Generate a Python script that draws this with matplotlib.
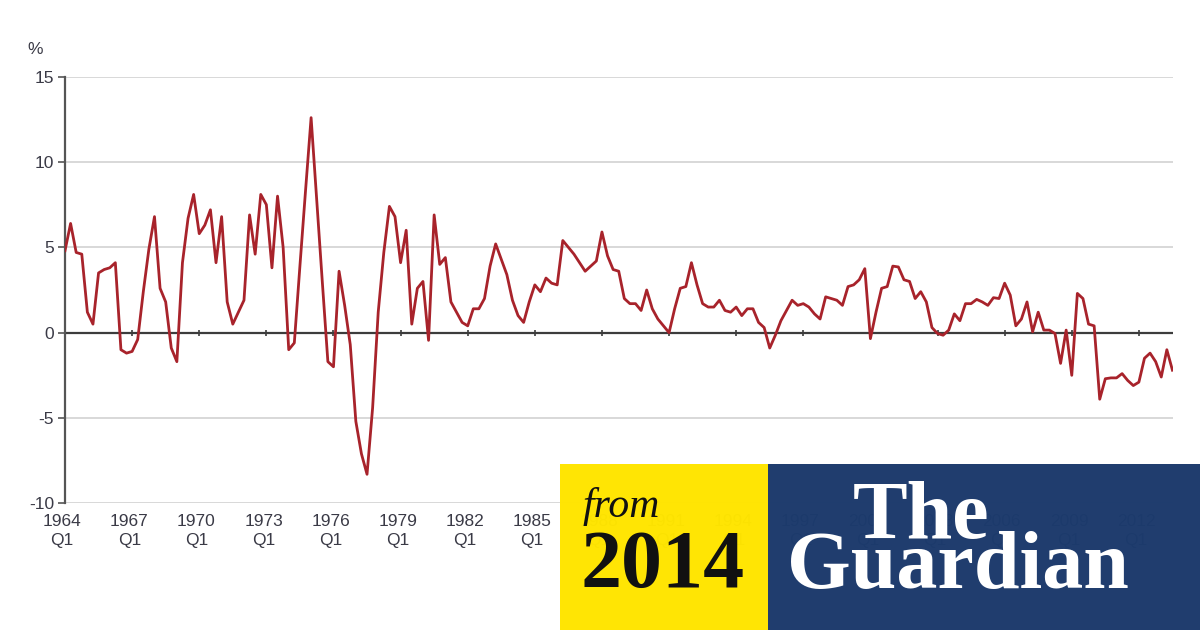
import matplotlib.pyplot as plt
from matplotlib.patches import Rectangle

# Datos trimestrales (%), 1964 Q1 a 2013 Q3
growth_1964_1973 = [4.8, 6.4, 4.7, 4.6, 1.2, 0.5, 3.5, 3.7, 3.8, 4.1,
                    -1.0, -1.2, -1.1, -0.4, 2.4, 4.9, 6.8, 2.6, 1.8, -0.9,
                    -1.7, 4.1, 6.7, 8.1, 5.8, 6.3, 7.2, 4.1, 6.8, 1.8,
                    0.5, 1.2, 1.9, 6.9, 4.6, 8.1, 7.5, 3.8, 8.0, 5.0]
growth_1974_1983 = [-1.0, -0.6, 3.9, 8.3, 12.6, 7.8, 3.0, -1.7, -2.0, 3.6,
                    1.6, -0.7, -5.2, -7.1, -8.3, -4.4, 1.2, 4.7, 7.4, 6.8,
                    4.1, 6.0, 0.5, 2.6, 3.0, -0.45, 6.9, 4.0, 4.4, 1.8,
                    1.2, 0.6, 0.4, 1.4, 1.4, 2.0, 3.9, 5.2, 4.3, 3.4]
growth_1984_1993 = [1.9, 1.0, 0.6, 1.8, 2.8, 2.4, 3.2, 2.9, 2.8, 5.4,
                    5.0, 4.6, 4.1, 3.6, 3.9, 4.2, 5.9, 4.5, 3.7, 3.6,
                    2.0, 1.7, 1.7, 1.3, 2.5, 1.4, 0.8, 0.4, 0.0, 1.4,
                    2.6, 2.7, 4.1, 2.8, 1.7, 1.5, 1.5, 1.9, 1.3, 1.2]
growth_1994_2003 = [1.5, 1.0, 1.4, 1.4, 0.6, 0.3, -0.9, -0.15, 0.7, 1.3,
                    1.9, 1.6, 1.7, 1.5, 1.1, 0.8, 2.1, 2.0, 1.9, 1.6,
                    2.7, 2.8, 3.1, 3.75, -0.35, 1.2, 2.6, 2.7, 3.9, 3.85,
                    3.1, 3.0, 2.0, 2.4, 1.8, 0.3, -0.05, -0.15, 0.15, 1.1]
growth_2004_2013 = [0.7, 1.7, 1.7, 1.95, 1.8, 1.6, 2.05, 2.0, 2.9, 2.2,
                    0.4, 0.8, 1.8, 0.05, 1.2, 0.15, 0.15, -0.05, -1.8, 0.15,
                    -2.5, 2.3, 2.0, 0.5, 0.4, -3.9, -2.7, -2.65, -2.65, -2.4,
                    -2.8, -3.1, -2.9, -1.5, -1.2, -1.7, -2.6, -1.0, -2.2]

label_years = [1964, 1967, 1970, 1973, 1976, 1979, 1982, 1985, 1988,
               1991, 1994, 1997, 2000, 2003, 2006, 2009, 2012]
y_ticks = [-10, -5, 0, 5, 10, 15]

values = (growth_1964_1973 + growth_1974_1983 + growth_1984_1993
          + growth_1994_2003 + growth_2004_2013)
quarters = list(range(len(values)))

text_color = '#3a3a46'
plt.rcParams['font.family'] = ['Liberation Sans', 'DejaVu Sans']

fig = plt.figure(figsize=(12, 6.3), dpi=100)
ax = fig.add_axes([65 / 1200, 1 - 503.3 / 630, 1108 / 1200, 426.6 / 630])

# Rejilla horizontal y linea del cero
for v in y_ticks:
    if v != 0:
        ax.axhline(v, color='#d2d2d2', lw=1.2, zorder=1)
ax.axhline(0, color='#3c3c3c', lw=1.6, zorder=2)

# Serie
ax.plot(quarters, values, color='#a8232b', lw=2.0, zorder=3,
        solid_joinstyle='round')

ax.set_xlim(0, 198.1)
ax.set_ylim(-10, 15)

# Eje y
ax.set_yticks(y_ticks)
ax.set_yticklabels([str(v) for v in y_ticks])
ax.tick_params(axis='y', direction='out', length=5, width=1.2,
               color='#555555', labelsize=12.5, labelcolor=text_color, pad=3)
ax.spines['left'].set_color('#555555')
ax.spines['left'].set_linewidth(1.6)
for side in ['top', 'right', 'bottom']:
    ax.spines[side].set_visible(False)

# Eje x: marcas sobre la linea del cero, etiquetas abajo
tick_pos = [12 * k for k in range(len(label_years))]
ax.set_xticks(tick_pos)
ax.set_xticklabels([])
ax.tick_params(axis='x', length=0)
for x in tick_pos[1:]:
    ax.plot([x], [0], marker='|', markersize=5, color='#3c3c3c',
            markeredgewidth=1.2, zorder=2, clip_on=False)
for x, yr in zip(tick_pos, label_years):
    ax.text(x - 0.5, -0.025, f'{yr}\nQ1', transform=ax.get_xaxis_transform(),
            ha='center', va='top', fontsize=12.5, color=text_color,
            linespacing=1.3)

fig.text(35 / 1200, 1 - 49 / 630, '%', ha='center', va='center',
         fontsize=12.5, color=text_color)

# Sello "from 2014 / The Guardian"
fig.add_artist(Rectangle((560 / 1200, 0), 208 / 1200, 166 / 630,
                         transform=fig.transFigure, facecolor='#ffe500',
                         edgecolor='none', alpha=0.985, zorder=5))
fig.add_artist(Rectangle((768 / 1200, 0), 432 / 1200, 166 / 630,
                         transform=fig.transFigure, facecolor='#1c3a6c',
                         edgecolor='none', alpha=0.985, zorder=5))
fig.text(583 / 1200, 1 - 517 / 630, 'from', family='Liberation Serif',
         style='italic', fontsize=30, color='#111111', ha='left',
         va='baseline', zorder=6)
fig.text(581 / 1200, 1 - 587 / 630, '2014', family='Liberation Serif',
         weight='bold', fontsize=59, color='#111111', ha='left',
         va='baseline', zorder=6)
fig.text(853 / 1200, 1 - 538 / 630, 'The', family='Liberation Serif',
         weight='bold', fontsize=59, color='white', ha='left',
         va='baseline', zorder=6)
fig.text(787 / 1200, 1 - 588 / 630, 'Guardian', family='Liberation Serif',
         weight='bold', fontsize=59, color='white', ha='left',
         va='baseline', zorder=6)

fig.savefig('out.png', dpi=100)
